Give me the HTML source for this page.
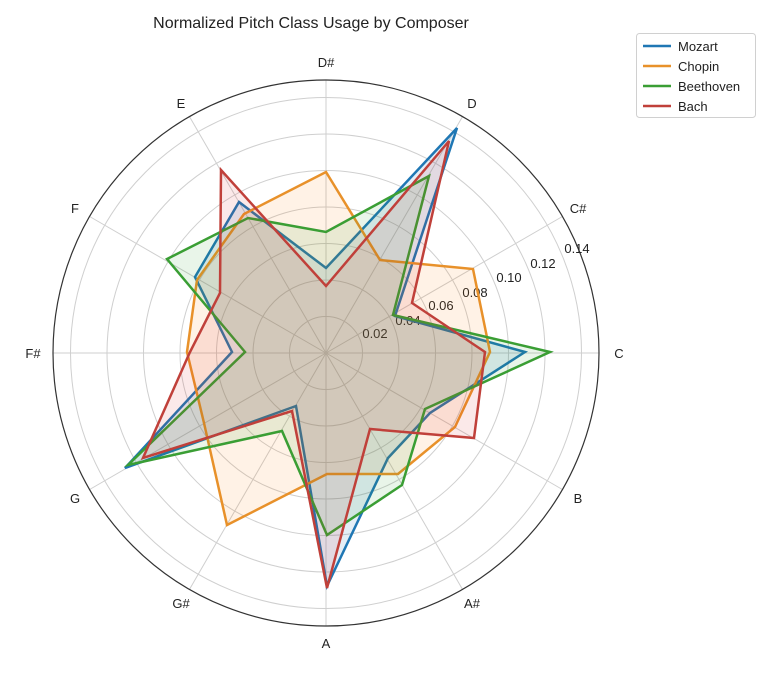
<!DOCTYPE html>
<html><head><meta charset="utf-8"><style>
body{margin:0;background:#fff;}
svg text{font-family:"Liberation Sans","DejaVu Sans",sans-serif;fill:#222;}
</style></head><body>
<svg width="780" height="668" viewBox="0 0 780 668" xmlns="http://www.w3.org/2000/svg">
<rect width="780" height="668" fill="#fff"/>
<text x="311" y="28" font-size="16" text-anchor="middle">Normalized Pitch Class Usage by Composer</text>
<g stroke="#cfcfcf" stroke-width="1" fill="none">
<circle cx="326" cy="353" r="36.5"/><circle cx="326" cy="353" r="73"/><circle cx="326" cy="353" r="109.5"/>
<circle cx="326" cy="353" r="146"/><circle cx="326" cy="353" r="182.5"/><circle cx="326" cy="353" r="219"/><circle cx="326" cy="353" r="255.5"/>
<line x1="326" y1="353" x2="599" y2="353"/><line x1="326" y1="353" x2="562.4" y2="216.5"/>
<line x1="326" y1="353" x2="462.5" y2="116.6"/><line x1="326" y1="353" x2="326" y2="80"/>
<line x1="326" y1="353" x2="189.5" y2="116.6"/><line x1="326" y1="353" x2="89.6" y2="216.5"/>
<line x1="326" y1="353" x2="53" y2="353"/><line x1="326" y1="353" x2="89.6" y2="489.5"/>
<line x1="326" y1="353" x2="189.5" y2="589.4"/><line x1="326" y1="353" x2="326" y2="626"/>
<line x1="326" y1="353" x2="462.5" y2="589.4"/><line x1="326" y1="353" x2="562.4" y2="489.5"/>
</g>
<circle cx="326" cy="353" r="273" fill="none" stroke="#333" stroke-width="1.2"/>
<g font-size="13">
<text x="375" y="338" text-anchor="middle">0.02</text>
<text x="408" y="325" text-anchor="middle">0.04</text>
<text x="441" y="310" text-anchor="middle">0.06</text>
<text x="475" y="297" text-anchor="middle">0.08</text>
<text x="509" y="282" text-anchor="middle">0.10</text>
<text x="543" y="268" text-anchor="middle">0.12</text>
<text x="577" y="253" text-anchor="middle">0.14</text>
</g>
<g font-size="13" text-anchor="middle">
<text x="326" y="67">D#</text><text x="472" y="108">D</text><text x="578" y="213">C#</text>
<text x="619" y="358">C</text><text x="578" y="503">B</text><text x="472" y="608">A#</text>
<text x="326" y="648">A</text><text x="181" y="608">G#</text><text x="75" y="503">G</text>
<text x="33" y="358">F#</text><text x="75" y="213">F</text><text x="181" y="108">E</text>
</g>
<g stroke-width="2.5" stroke-linejoin="miter">
<polygon fill="#1f77b4" fill-opacity="0.12" stroke="#1f77b4" points="525,352 395,316 457,128 326,268 239,202 195,277 232,352 125,468 296,406 327,586 388,458 430,413"/>
<polygon fill="#ff7f0e" fill-opacity="0.1" stroke="#e8912a" points="490,352 473,269 380,260 326,172 244,214 197,280 187,352 204,423 227,525 327,474 398,474 455,427"/>
<polygon fill="#2ca02c" fill-opacity="0.1" stroke="#3a9e34" points="550,352 393,315 429,176 326,232 248,218 167,259 245,352 128,465 282,431 327,535 402,485 425,409"/>
<polygon fill="#d62728" fill-opacity="0.1" stroke="#c0403a" points="485,352 412,303 449,141 326,286 221,170 220,293 190,352 143,458 292,411 327,588 370,429 474,438"/>
</g>
<g>
<rect x="636.5" y="33.5" width="119" height="84" rx="3" fill="#fff" stroke="#d0d0d0"/>
<line x1="643" y1="46" x2="671" y2="46" stroke="#1f77b4" stroke-width="2.5"/>
<line x1="643" y1="66" x2="671" y2="66" stroke="#e8912a" stroke-width="2.5"/>
<line x1="643" y1="86" x2="671" y2="86" stroke="#3a9e34" stroke-width="2.5"/>
<line x1="643" y1="106" x2="671" y2="106" stroke="#c0403a" stroke-width="2.5"/>
<g font-size="13"><text x="678" y="51">Mozart</text><text x="678" y="71">Chopin</text><text x="678" y="91">Beethoven</text><text x="678" y="111">Bach</text></g>
</g>
</svg>
</body></html>
